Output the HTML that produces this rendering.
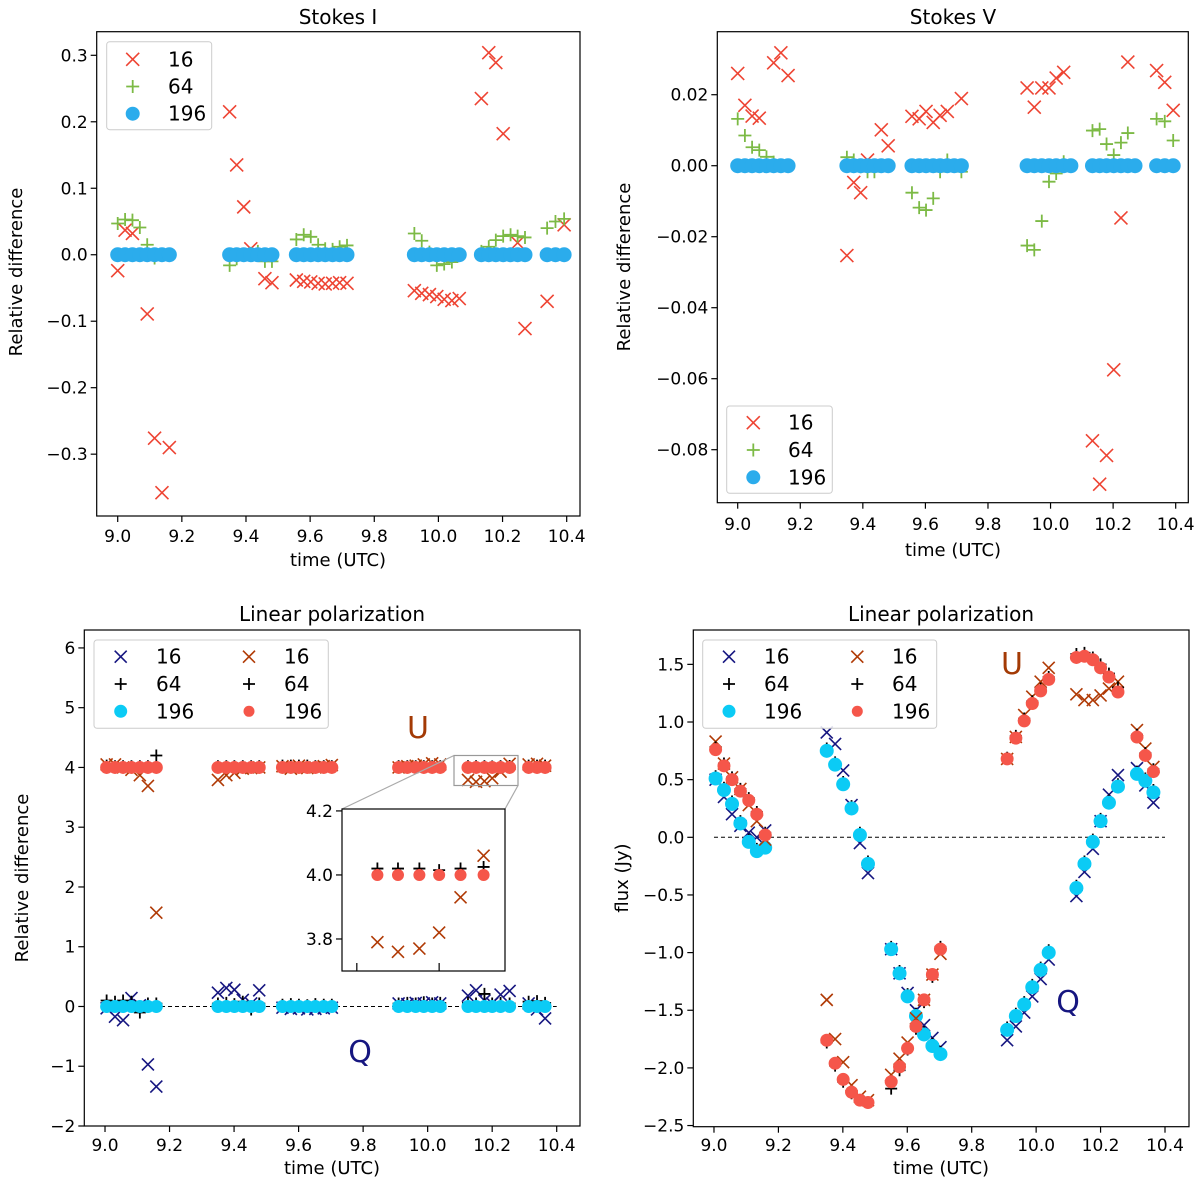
<!DOCTYPE html>
<html><head><meta charset="utf-8"><style>
body{margin:0;background:#fff}
svg{display:block;font-family:"DejaVu Sans","Liberation Sans",sans-serif}
</style></head><body>
<svg id="fig" width="1200" height="1186" viewBox="0 0 1200 1186" xmlns="http://www.w3.org/2000/svg"></svg>
<script>
// ---------- Panel 1 / 2 data (Stokes I, Stokes V) ----------
const T = [9.00,9.023,9.046,9.069,9.092,9.115,9.138,9.161, 9.349,9.371,9.393,9.415,9.437,9.459,9.481, 9.557,9.58,9.602,9.625,9.647,9.67,9.692,9.715, 9.925,9.948,9.972,9.995,10.018,10.042,10.065, 10.134,10.157,10.179,10.202,10.225,10.247,10.27, 10.339,10.365,10.392];
const I16 = [-0.024,0.037,0.032,null,-0.089,-0.276,-0.358,-0.29, 0.215,0.135,0.072,0.009,null,-0.036,-0.042, -0.038,-0.04,-0.041,-0.043,-0.044,-0.043,-0.042,-0.043, -0.054,-0.058,-0.06,-0.063,-0.067,-0.069,-0.066, 0.235,0.304,0.289,0.182,null,0.018,-0.111, -0.07,null,0.045];
const I64 = [0.047,0.053,0.052,0.041,0.015,-0.005,0,0, -0.016,-0.006,0,0.002,0.005,-0.01,-0.01, 0.023,0.03,0.027,0.015,0.009,0.008,0.012,0.014, 0.032,0.021,0.004,-0.016,-0.014,-0.011,0, 0.005,0.012,0.022,0.028,0.03,0.028,0.026, 0.04,0.05,0.054];
const I196 = T.map(()=>0);
const V16 = [0.026,0.017,0.014,0.0134,null,0.029,0.0318,0.0254, -0.0253,-0.0047,-0.0076,0.0016,null,0.0101,0.0056, 0.0139,0.0132,0.0153,0.0122,0.0142,0.0153,null,0.0189, 0.0219,0.0165,0.0219,0.0219,0.0247,0.0263,null, -0.0775,-0.0897,-0.0816,-0.0575,-0.0147,0.0292,null, 0.0268,0.0235,0.0156];
const V64 = [0.0132,0.0085,0.0052,0.0044,0.0025,0.001,0,0, 0.0024,0.0016,-0.0003,-0.0017,-0.0017,0,0, -0.0076,-0.0118,-0.0125,-0.0092,-0.0017,0.0016,0,-0.0017, -0.0225,-0.0237,-0.0156,-0.0045,-0.0022,0.0011,0, 0.0099,0.0103,0.0061,0.003,0.0065,0.0092,0, 0.0132,0.0125,0.0071];
const V196 = T.map(()=>0);
// ---------- Panel 3 / 4 data (Linear polarization) ----------
const TL = [9.005,9.031,9.056,9.082,9.108,9.133,9.159, 9.35,9.376,9.401,9.427,9.453,9.478, 9.55,9.576,9.601,9.627,9.652,9.678,9.703, 9.91,9.937,9.963,9.988,10.014,10.039, 10.125,10.15,10.176,10.2,10.226,10.254, 10.313,10.339,10.364];
const RQ16 = [-0.03,-0.17,-0.23,0.14,0.02,-0.97,-1.34, 0.23,0.31,0.28,0.11,0.05,0.27, -0.02,-0.04,-0.03,-0.05,-0.04,-0.03,-0.02, 0.05,0.04,0.06,0.05,0.07,0.05, 0.18,0.27,0.1,0.05,0.2,0.26, 0.05,-0.05,-0.2];
const RQ64 = [0.1,0.08,0.1,0.08,-0.1,0.05,0.05, 0.05,0.06,0.04,0.08,-0.05,0.05, 0.03,0.04,0.03,0.02,0.04,0.03,0.03, 0.05,0.06,0.05,0.07,0.05,0.06, 0.06,0.05,0.21,0.05,0.06,0.05, 0.08,0.09,0.06];
const RQ196 = TL.map(()=>0);
const RU16 = [4.05,4.05,4.0,3.96,3.87,3.69,1.57, 3.79,3.87,3.91,3.98,3.99,4.0, 4.02,3.98,4.03,3.99,4.0,4.02,4.04, 4.0,4.02,4.03,4.05,4.07,4.05, 3.79,3.76,3.77,3.82,3.93,4.06, 4.05,4.06,4.03];
const RU64 = [4.03,4.02,4.02,4.02,4.02,4.02,4.2, 4.02,4.02,4.02,4.02,4.02,4.02, 4.03,4.03,4.03,4.03,4.02,4.02,4.02, 4.02,4.02,4.02,4.02,4.02,4.02, 4.02,4.02,4.02,4.015,4.02,4.025, 4.03,4.03,4.03];
const RU196 = TL.map(()=>4.0);
const FQ16 = [0.5,0.35,0.2,0.1,0.04,0.0,0.06, 0.91,0.81,0.58,0.28,-0.05,-0.31, -0.97,-1.18,-1.35,-1.5,-1.63,-1.74,-1.82, -1.76,-1.64,-1.52,-1.38,-1.23,-1.06, -0.51,-0.3,-0.1,0.14,0.37,0.54, 0.6,0.45,0.3];
const FQ64 = [0.53,0.43,0.31,0.14,-0.02,-0.1,-0.07, 0.77,0.65,0.48,0.27,0.04,-0.21, -0.95,-1.16,-1.36,-1.53,-1.69,-1.79,-1.86, -1.65,-1.53,-1.43,-1.28,-1.13,-0.98, -0.42,-0.21,-0.02,0.16,0.32,0.46, 0.57,0.51,0.41];
const FQ196 = [0.51,0.41,0.29,0.12,-0.04,-0.12,-0.09, 0.75,0.63,0.46,0.25,0.02,-0.23, -0.97,-1.18,-1.38,-1.55,-1.71,-1.81,-1.88, -1.67,-1.55,-1.45,-1.3,-1.15,-1.0, -0.44,-0.23,-0.04,0.14,0.3,0.44, 0.55,0.49,0.39];
const FU16 = [0.83,0.64,0.52,0.42,0.28,0.14,-0.02, -1.41,-1.75,-1.95,-2.15,-2.25,-2.28, -2.06,-1.92,-1.78,-1.57,-1.41,-1.19,-1.01, 0.68,0.87,1.06,1.22,1.35,1.47, 1.24,1.19,1.19,1.23,1.29,1.35, 0.93,0.77,0.61];
const FU64 = [0.78,0.64,0.52,0.42,0.34,0.22,0.04, -1.78,-1.98,-2.12,-2.22,-2.28,-2.3, -2.18,-2.02,-1.84,-1.66,-1.43,-1.21,-0.95, 0.69,0.88,1.03,1.18,1.29,1.39, 1.59,1.6,1.56,1.5,1.42,1.3, 0.89,0.73,0.59];
const FU196 = [0.76,0.62,0.5,0.4,0.32,0.2,0.02, -1.76,-1.96,-2.1,-2.21,-2.28,-2.3, -2.12,-1.99,-1.83,-1.64,-1.41,-1.19,-0.97, 0.68,0.86,1.01,1.16,1.27,1.37, 1.56,1.57,1.54,1.47,1.39,1.26, 0.87,0.71,0.57];
// ---------- inset ----------
const TI = [10.125,10.15,10.176,10.2,10.226,10.254];
const IU16 = [3.79,3.76,3.77,3.82,3.93,4.06];
const IU64 = [4.02,4.02,4.02,4.015,4.02,4.025];
const IU196 = [4.0,4.0,4.0,4.0,4.0,4.0];
// tick labels
const XT = [9.0,9.2,9.4,9.6,9.8,10.0,10.2,10.4];
const YT1 = [-0.3,-0.2,-0.1,0.0,0.1,0.2,0.3];
const YT2 = [-0.08,-0.06,-0.04,-0.02,0.00,0.02];
const YT3 = [-2,-1,0,1,2,3,4,5,6];
const YT4 = [-2.5,-2.0,-1.5,-1.0,-0.5,0.0,0.5,1.0,1.5];
const YTI = [3.8,4.0,4.2];

const NS='http://www.w3.org/2000/svg';
const svg=document.getElementById('fig');
function mk(tag,attrs,parent){const e=document.createElementNS(NS,tag);for(const k in attrs)e.setAttribute(k,attrs[k]);(parent||svg).appendChild(e);return e;}
function fmt(v,d){const s=Math.abs(v).toFixed(d);return (v<0?'\u2212':'')+s;}
function axes(name,L,R,Tp,B,xlim,ylim){
  const g=mk('g',{});
  
  
  const sx=v=>L+(v-xlim[0])/(xlim[1]-xlim[0])*(R-L);
  const sy=v=>B-(v-ylim[0])/(ylim[1]-ylim[0])*(B-Tp);
  return {g,sx,sy,L,R,T:Tp,B};
}
function frame(ax){
  const r=mk('rect',{x:ax.L,y:ax.T,width:ax.R-ax.L,height:ax.B-ax.T,fill:'none',stroke:'#000','stroke-width':1.2},ax.g);
  
  
}
function xticks(ax,ticks,d,ly){
  ticks.forEach(v=>{const x=ax.sx(v);
    mk('line',{x1:x,x2:x,y1:ax.B,y2:ax.B+6,stroke:'#000','stroke-width':1.2},ax.g);
    if(ly!==null){const t=mk('text',{x:x,y:ly,'font-size':17,'text-anchor':'middle'},ax.g);t.textContent=fmt(v,d);
    
    }
  });
}
function yticks(ax,ticks,d,fs){
  ticks.forEach(v=>{const y=ax.sy(v);
    mk('line',{x1:ax.L-6,x2:ax.L,y1:y,y2:y,stroke:'#000','stroke-width':1.2},ax.g);
    const t=mk('text',{x:ax.L-9,y:y+6,'font-size':fs||17,'text-anchor':'end'},ax.g);t.textContent=fmt(v,d);
    
    
  });
}
function label(txt,x,y,fs,rot,name,color){
  const t=mk('text',{x:x,y:y,'font-size':fs,'text-anchor':'middle',fill:color||'#000'});
  if(rot)t.setAttribute('transform','rotate(-90 '+x+' '+y+')');
  t.textContent=txt;
  
  
}
function marker(parent,type,x,y,color,s){
  let e;
  if(type==='o'){e=mk('circle',{cx:x,cy:y,r:s,fill:color},parent);}
  else if(type==='x'){e=mk('path',{d:`M${x-s} ${y-s}L${x+s} ${y+s}M${x-s} ${y+s}L${x+s} ${y-s}`,stroke:color,'stroke-width':1.6,fill:'none'},parent);}
  else {e=mk('path',{d:`M${x-s} ${y}L${x+s} ${y}M${x} ${y-s}L${x} ${y+s}`,stroke:color,'stroke-width':1.8,fill:'none'},parent);}
  return e;
}
function series(ax,xs,ys,type,color,s,name){
  const g=mk('g',{},ax.g);
  
  
  xs.forEach((t,i)=>{if(ys[i]===null)return;
    const e=marker(g,type,ax.sx(t),ax.sy(ys[i]),color,s);
    
    
  });
}
function legend(x,y,w,h,entries){
  const g=mk('g',{});
  
  
  mk('rect',{x:x,y:y,width:w,height:h,rx:3,fill:'#fff','fill-opacity':0.85,stroke:'#ccc','stroke-width':1},g);
  entries.forEach(en=>{
    const m=marker(g,en.type,en.mx,en.my,en.color,en.s);
    
    
    const t=mk('text',{x:en.tx,y:en.my+7,'font-size':20},g);t.textContent=en.label;
    
    
  });
}
const RED='#ee4433',GRN='#7cba45',BLU='#2bacec',NAVY='#161680',BRN='#b03a05',CYN='#0bcbf5',SAL='#f5564a';

// ===== Panel 1: Stokes I =====
const a1=axes('stokes-i-panel',96.7,580,31.7,516,[8.9345,10.4415],[-0.393,0.3355]);
series(a1,T,I16,'x',RED,6.5,'series-16');
series(a1,T,I64,'+',GRN,6.5,'series-64');
series(a1,T,I196,'o',BLU,7.5,'series-196');
frame(a1);xticks(a1,XT,1,542);yticks(a1,YT1,1);
label('Stokes I',338,24,20,false,'title-stokes-i');
label('time (UTC)',338,566,18,false,'x-axis-title');
label('Relative difference',22,272,18,true,'y-axis-title');
legend(106.7,41.7,105,88,[
 {type:'x',mx:132.7,my:59.3,color:RED,s:6.5,tx:168,label:'16'},
 {type:'+',mx:132.7,my:86.5,color:GRN,s:6.5,tx:168,label:'64'},
 {type:'o',mx:132.7,my:113.7,color:BLU,s:7,tx:168,label:'196'}]);

// ===== Panel 2: Stokes V =====
const a2=axes('stokes-v-panel',717.3,1188.3,31.7,502.7,[8.9348,10.4403],[-0.09493,0.03775]);
series(a2,T,V16,'x',RED,6.5,'series-16');
series(a2,T,V64,'+',GRN,6.5,'series-64');
series(a2,T,V196,'o',BLU,7.5,'series-196');
frame(a2);xticks(a2,XT,1,530);yticks(a2,YT2,2);
label('Stokes V',953,24,20,false,'title-stokes-v');
label('time (UTC)',953,556,18,false,'x-axis-title');
label('Relative difference',630,267,18,true,'y-axis-title');
legend(726.7,406,105.6,87.3,[
 {type:'x',mx:753.3,my:422.7,color:RED,s:6.5,tx:788,label:'16'},
 {type:'+',mx:753.3,my:450,color:GRN,s:6.5,tx:788,label:'64'},
 {type:'o',mx:753.3,my:477.3,color:BLU,s:7,tx:788,label:'196'}]);

// ===== Panel 3: Linear polarization relative difference =====
const a3=axes('linear-pol-relative-panel',84.3,580,630,1126,[8.9358,10.4722],[-2.0,6.3]);
const z3=mk('line',{x1:a3.sx(9.0),x2:a3.sx(10.4),y1:a3.sy(0),y2:a3.sy(0),stroke:'#000','stroke-width':1,'stroke-dasharray':'4,3'},a3.g);


series(a3,TL,RQ16,'x',NAVY,6,'q-16');
series(a3,TL,RQ64,'+','#000',6,'q-64');
series(a3,TL,RQ196,'o',CYN,6.5,'q-196');
series(a3,TL,RU16,'x',BRN,6,'u-16');
series(a3,TL,RU64,'+','#000',6,'u-64');
series(a3,TL,RU196,'o',SAL,6.5,'u-196');
frame(a3);xticks(a3,XT,1,1151);yticks(a3,YT3,0);
label('Linear polarization',332,621,20,false,'title-linear-pol-left');
label('time (UTC)',332,1174,18,false,'x-axis-title');
label('Relative difference',28,878,18,true,'y-axis-title');
label('U',418,738,30,false,'label-u','#a33a05');
label('Q',360,1062,30,false,'label-q','#161680');
// inset indicator
const ir=mk('rect',{x:454,y:755.5,width:64,height:30,fill:'none',stroke:'#999','stroke-width':1.2});


mk('line',{x1:454,y1:755.5,x2:342,y2:809,stroke:'#aaa','stroke-width':1.2});
mk('line',{x1:518,y1:785.5,x2:505,y2:809,stroke:'#aaa','stroke-width':1.2});
const ai=axes('inset-panel',342,505,809,971,[10.082,10.28],[3.70,4.206]);
mk('rect',{x:342,y:809,width:163,height:162,fill:'#fff'},ai.g);
series(ai,TI,IU16,'x',BRN,6,'inset-u-16');
series(ai,TI,IU64,'+','#000',6,'inset-u-64');
series(ai,TI,IU196,'o',SAL,6,'inset-u-196');
frame(ai);yticks(ai,YTI,1,17);
[10.1,10.2].forEach(v=>{mk('line',{x1:ai.sx(v),x2:ai.sx(v),y1:971,y2:963,stroke:'#000','stroke-width':1.2},ai.g);});
legend(94,640,234.3,88.3,[
 {type:'x',mx:120.7,my:656.7,color:NAVY,s:6,tx:156,label:'16'},
 {type:'+',mx:120.7,my:684,color:'#000',s:6,tx:156,label:'64'},
 {type:'o',mx:120.7,my:711.3,color:CYN,s:6.5,tx:156,label:'196'},
 {type:'x',mx:249,my:656.7,color:BRN,s:6,tx:284,label:'16'},
 {type:'+',mx:249,my:684,color:'#000',s:6,tx:284,label:'64'},
 {type:'o',mx:249,my:711.3,color:SAL,s:5.5,tx:284,label:'196'}]);

// ===== Panel 4: Linear polarization flux =====
const a4=axes('linear-pol-flux-panel',693.3,1189,630,1126.7,[8.9358,10.4745],[-2.51,1.798]);
const z4=mk('line',{x1:a4.sx(9.0),x2:a4.sx(10.4),y1:a4.sy(0),y2:a4.sy(0),stroke:'#000','stroke-width':1,'stroke-dasharray':'4,3'},a4.g);


series(a4,TL,FQ16,'x',NAVY,6,'q-16');
series(a4,TL,FQ64,'+','#000',6,'q-64');
series(a4,TL,FQ196,'o',CYN,7,'q-196');
series(a4,TL,FU16,'x',BRN,6,'u-16');
series(a4,TL,FU64,'+','#000',6,'u-64');
series(a4,TL,FU196,'o',SAL,6.5,'u-196');
frame(a4);xticks(a4,XT,1,1151);yticks(a4,YT4,1);
label('Linear polarization',941,621,20,false,'title-linear-pol-right');
label('time (UTC)',941,1174,18,false,'x-axis-title');
label('flux (Jy)',628,878,18,true,'y-axis-title');
label('U',1012,674,30,false,'label-u','#a33a05');
label('Q',1068,1012,30,false,'label-q','#161680');
legend(702.7,640,234,88.3,[
 {type:'x',mx:729,my:656.7,color:NAVY,s:6,tx:764,label:'16'},
 {type:'+',mx:729,my:684,color:'#000',s:6,tx:764,label:'64'},
 {type:'o',mx:729,my:711.3,color:CYN,s:6.5,tx:764,label:'196'},
 {type:'x',mx:857.3,my:656.7,color:BRN,s:6,tx:892,label:'16'},
 {type:'+',mx:857.3,my:684,color:'#000',s:6,tx:892,label:'64'},
 {type:'o',mx:857.3,my:711.3,color:SAL,s:5.5,tx:892,label:'196'}]);
</script>
</body></html>
